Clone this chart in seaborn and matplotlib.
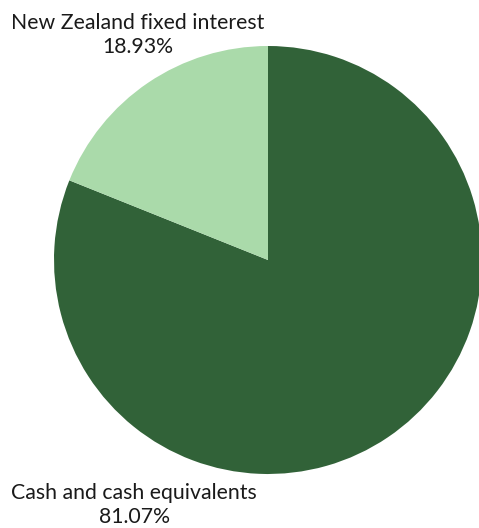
import matplotlib
matplotlib.use("Agg")
import matplotlib.pyplot as plt
import seaborn as sns

categories = ["Cash and cash equivalents", "New Zealand fixed interest"]
values = [81.07, 18.93]
colors = ["#316238", "#AADAAA"]

sns.set_theme(style="white")
plt.rcParams['font.family'] = ['Lato', 'DejaVu Sans']

W, H = 479, 528
fig = plt.figure(figsize=(W / 100, H / 100), dpi=100)
cx, cy, r = 268, 260, 214
ax = fig.add_axes([(cx - r) / W, (H - cy - r) / H, 2 * r / W, 2 * r / H])
ax.pie(values, colors=colors, startangle=90, counterclock=False,
       wedgeprops=dict(linewidth=0))
ax.set_xlim(-1, 1)
ax.set_ylim(-1, 1)
ax.set_aspect('equal')
ax.axis('off')

label_pos = {
    "New Zealand fixed interest": (138, 35),
    "Cash and cash equivalents": (134, 505),
}
for cat, val in zip(categories, values):
    x, y = label_pos[cat]
    fig.text(x / W, 1 - y / H, f"{cat}\n{val:.2f}%", ha='center', va='center',
             fontsize=15.3, color='#1a1a1a', linespacing=1.2)

fig.savefig("out.png", dpi=100)
